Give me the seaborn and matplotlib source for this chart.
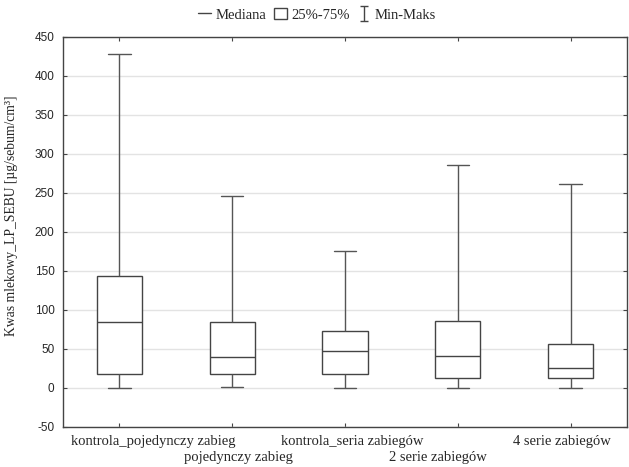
import numpy as np
import pandas as pd
import matplotlib
matplotlib.use("Agg")
import matplotlib.pyplot as plt
import seaborn as sns
from matplotlib.lines import Line2D
from matplotlib.patches import Patch


groups = ["kontrola_pojedynczy zabieg", "pojedynczy zabieg", "kontrola_seria zabiegów",
          "2 serie zabiegów", "4 serie zabiegów"]
mins = [0, 1.5, 0, 0, 0]
q1s = [17.5, 17.5, 17.5, 13, 12.5]
medians = [85, 39, 47, 41, 26]
q3s = [143, 85, 73, 86, 56]
maxs = [428, 246, 176, 286, 261]
yticks = list(range(-50, 451, 50))

# five points per group -> percentiles 0/25/50/75/100 hit the read values exactly
rows = []
for g, a, b, c, d, e in zip(groups, mins, q1s, medians, q3s, maxs):
    for v in (a, b, c, d, e):
        rows.append((g, v))
df = pd.DataFrame(rows, columns=["grupa", "wartosc"])

sns.set_style("white")
plt.rcParams["font.family"] = ["Liberation Serif", "DejaVu Serif"]
plt.rcParams["axes.unicode_minus"] = False

fig = plt.figure(figsize=(6.29, 4.67), dpi=100)
ax = fig.add_axes([0.100, 0.086, 0.897, 0.835])

line_kw = dict(color="#555555", linewidth=1)
sns.boxplot(data=df, x="grupa", y="wartosc", order=groups, whis=(0, 100), width=0.4,
            color="white", linecolor="#444444", linewidth=1, showfliers=False,
            capprops=dict(color="#555555"), whiskerprops=line_kw,
            medianprops=dict(color="#444444", linewidth=1), ax=ax)

ax.set_xlim(-0.5, len(groups) - 0.5)
ax.set_ylim(-50, 450)
ax.set_yticks(yticks)
ax.yaxis.grid(True, color="#e3e3e3", linewidth=1)
ax.set_axisbelow(True)
for lab in ax.get_yticklabels():
    lab.set_fontfamily("Liberation Sans")
    lab.set_fontsize(8.5)

ax.set_xlabel("")
ax.set_ylabel("Kwas mlekowy_LP_SEBU [µg/sebum/cm³]", fontsize=9.8)
ax.yaxis.set_label_coords(-0.080, 0.541)
ax.set_xticks(range(len(groups)))
ax.set_xticklabels([])

# labels alternate between two rows and are nudged sideways like the original
shifts_px = [34, 6, 7, -20, -9]
for i, name in enumerate(groups):
    dy = -6 if i % 2 == 0 else -17.5
    ax.annotate(name, xy=(i, 0), xycoords=("data", "axes fraction"),
                xytext=(shifts_px[i] * 0.72, dy), textcoords="offset points",
                ha="center", va="top", fontsize=10.5)

ax.tick_params(direction="in", length=3, width=0.8, color="#444444",
               top=True, right=True, bottom=True, left=True)
ax.tick_params(axis="y", pad=6)
for s in ax.spines.values():
    s.set_color("#444444")
    s.set_linewidth(1)

handles = [
    Line2D([], [], color="#444444", linewidth=1),
    Patch(facecolor="white", edgecolor="#444444", linewidth=1),
    ax.errorbar([np.nan], [np.nan], yerr=[[1], [1]], fmt="none", ecolor="#444444",
                elinewidth=1, capsize=3),
]
fig.legend(handles, ["Mediana", "25%-75%", "Min-Maks"], loc="center",
           bbox_to_anchor=(0.504, 0.968), ncol=3, frameon=False, fontsize=10.5,
           handlelength=0.9, handletextpad=0.3, columnspacing=0.5)

fig.savefig("out.png", dpi=100)
